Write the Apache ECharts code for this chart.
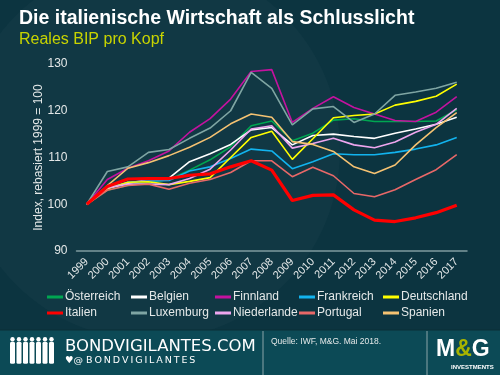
<!DOCTYPE html>
<html>
<head>
<meta charset="utf-8">
<script src="https://cdn.jsdelivr.net/npm/echarts@6/dist/echarts.min.js"></script>
<style>
  html, body { margin: 0; padding: 0; background: #0c3440; }
  #chart { width: 500px; height: 375px; }
</style>
</head>
<body>
<div id="chart"></div>
<script>
    var years = ['1999','2000','2001','2002','2003','2004','2005','2006','2007','2008',
                 '2009','2010','2011','2012','2013','2014','2015','2016','2017'];
    var yTicks = [90, 100, 110, 120, 130];

    var oesterreich = [100,103.0,104.0,104.6,105.3,107.3,109.5,112.3,116.8,117.8,113.6,115.2,118.0,118.3,117.7,117.7,117.7,117.8,120.2];
    var belgien     = [100,103.5,104.5,105.3,105.6,109.1,110.8,112.8,115.9,116.4,112.7,114.7,115.0,114.5,114.1,115.2,116.1,117.1,118.6];
    var finnland    = [100,105.3,107.7,109.3,111.4,115.4,118.3,122.5,128.4,128.8,117.5,120.5,123.0,120.7,119.3,117.9,117.7,119.7,123.0];
    var frankreich  = [100,103.4,104.7,105.0,105.1,107.1,108.0,109.8,111.8,111.4,107.6,109.1,110.8,110.6,110.6,111.1,111.8,112.7,114.3];
    var deutschland = [100,103.3,104.7,104.8,104.2,104.9,105.7,110.0,114.3,115.6,109.6,114.0,118.5,119.0,119.3,121.2,122.0,123.1,125.7];
    var italien     = [100,103.8,105.4,105.5,105.5,106.2,106.5,108.0,109.3,107.3,100.8,101.9,102.0,98.8,96.6,96.3,97.1,98.2,99.8];
    var luxemburg   = [100,107.0,108.0,111.1,111.7,114.1,116.3,120.0,128.2,124.8,117.0,120.4,120.9,117.5,119.3,123.3,124.0,124.8,126.1];
    var niederlande = [100,103.5,104.3,104.3,104.2,105.5,107.5,111.6,116.1,116.8,112.0,113.0,114.1,112.7,112.1,113.3,115.4,117.1,120.5];
    var portugal    = [100,103.0,104.0,104.3,103.2,104.5,105.3,106.8,109.3,109.3,105.9,107.9,106.1,102.3,101.6,103.1,105.3,107.4,110.6];
    var spanien     = [100,104.0,107.7,108.9,110.4,112.2,114.3,117.2,119.3,118.6,113.4,112.8,111.3,108.0,106.6,108.4,112.7,116.4,119.6];

    var legendRow1 = ['Österreich','Belgien','Finnland','Frankreich','Deutschland'];
    var legendRow2 = ['Italien','Luxemburg','Niederlande','Portugal','Spanien'];

    function line(name, data, color, width) {
        return {
            name: name,
            type: 'line',
            data: data,
            symbol: 'none',
            color: color,
            lineStyle: { color: color, width: width || 1.6 }
        };
    }

    var font = '"Liberation Sans", Arial, sans-serif';
    var txt = '#e4e8e8';

    // one legend per entry so the columns line up like a table
    var legends = [];
    [legendRow1, legendRow2].forEach(function (row, r) {
        row.forEach(function (name, c) {
            legends.push({
                data: [name], left: 47 + c * 84, top: 291 + r * 16, padding: 0,
                itemWidth: 16, itemHeight: 3, icon: 'rect',
                textStyle: { color: txt, fontSize: 12, fontFamily: font, padding: [0, 0, 0, -3] }
            });
        });
    });

    function spaced(s, sep) { return s.split('').join(sep); }

    var option = {
        backgroundColor: '#0c3440',
        animation: false,
        title: {
            text: 'Die italienische Wirtschaft als Schlusslicht',
            subtext: 'Reales BIP pro Kopf',
            left: 14, top: 4, itemGap: 3,
            textStyle: { color: '#ffffff', fontSize: 19.5, fontWeight: 'bold', fontFamily: font },
            subtextStyle: { color: '#c8d400', fontSize: 16, fontFamily: font }
        },
        grid: { left: 76.5, right: 33, top: 64, bottom: 124 },
        legend: legends,
        xAxis: {
            type: 'category',
            data: years,
            boundaryGap: true,
            axisLine: { lineStyle: { color: '#7f9a9e', width: 1.5 } },
            axisTick: { show: false },
            axisLabel: { rotate: 45, color: txt, fontSize: 11, fontFamily: font, margin: 9, interval: 0 }
        },
        yAxis: {
            type: 'value',
            min: 90, max: 130, interval: 10,
            name: 'Index, rebasiert 1999 = 100',
            nameLocation: 'middle',
            nameGap: 32,
            nameMoveOverlap: false,
            nameTextStyle: { color: txt, fontSize: 12, fontFamily: font },
            axisLine: { show: false },
            axisTick: { show: false },
            splitLine: { show: false },
            axisLabel: {
                color: txt, fontSize: 12, fontFamily: font, margin: 9,
                formatter: function (v) { return yTicks.indexOf(v) >= 0 ? String(v) : ''; }
            }
        },
        series: [
            line('Österreich', oesterreich, '#00a651'),
            line('Belgien', belgien, '#ffffff'),
            line('Finnland', finnland, '#c4129f'),
            line('Frankreich', frankreich, '#12b3ee'),
            line('Deutschland', deutschland, '#ffff00'),
            line('Luxemburg', luxemburg, '#7fa5a3'),
            line('Niederlande', niederlande, '#eea6ee'),
            line('Portugal', portugal, '#e86868'),
            line('Spanien', spanien, '#f5c272'),
            line('Italien', italien, '#ff0000', 3.2)
        ],
        graphic: [
            // faint background swirl
            { type: 'circle', shape: { cx: 150, cy: 150, r: 190 }, silent: true, z: -10,
              style: { fill: 'rgba(255,255,255,0.025)' } },
            // footer band
            { type: 'rect', shape: { x: 0, y: 330, width: 500, height: 45 }, silent: true,
              style: { fill: '#0c4a56' } },
            { type: 'line', shape: { x1: 0, y1: 330, x2: 500, y2: 330 }, silent: true,
              style: { stroke: '#0a2e36', lineWidth: 1 } },
            { type: 'line', shape: { x1: 263, y1: 331, x2: 263, y2: 375 }, silent: true,
              style: { stroke: '#8aa4a8', lineWidth: 1 } },
            { type: 'line', shape: { x1: 427, y1: 331, x2: 427, y2: 375 }, silent: true,
              style: { stroke: '#8aa4a8', lineWidth: 1 } },
            // people silhouettes
            { type: 'group', left: 10, top: 337, silent: true, children: [0,1,2,3,4,5,6].map(function (i) {
                return { type: 'group', x: i * 6.5, children: [
                    { type: 'circle', shape: { cx: 3, cy: 2.5, r: 2.2 }, style: { fill: '#ffffff' } },
                    { type: 'rect', shape: { x: 0.5, y: 5, width: 5, height: 22, r: 1.5 }, style: { fill: '#ffffff' } }
                ] };
            }) },
            { type: 'text', left: 65, top: 338, silent: true,
              style: { text: 'BONDVIGILANTES.COM', fill: '#ffffff', fontSize: 16.5,
                       fontFamily: '"DejaVu Sans", sans-serif' } },
            { type: 'text', left: 65, top: 356, silent: true,
              style: { text: '\u2665@ ' + spaced('BONDVIGILANTES', '\u2009'), fill: '#ffffff', fontSize: 9.5,
                       fontFamily: '"DejaVu Sans", sans-serif' } },
            { type: 'text', left: 271, top: 337, silent: true,
              style: { text: 'Quelle: IWF, M&G. Mai 2018.', fill: '#e4e8e8', fontSize: 8.5, fontFamily: font } },
            // M&G logo
            { type: 'text', left: 436, top: 338, silent: true,
              style: { text: '{m|M}{a|&}{m|G}', rich: {
                  m: { fill: '#ffffff', fontSize: 23, fontWeight: 'bold', fontFamily: font },
                  a: { fill: '#a8b400', fontSize: 23, fontWeight: 'bold', fontFamily: font }
              } } },
            { type: 'text', left: 451, top: 364, silent: true,
              style: { text: 'INVESTMENTS', fill: '#ffffff', fontSize: 6, fontWeight: 'bold', fontFamily: font } }
        ]
    };

    var myCharts = echarts.init(document.getElementById('chart'));
    myCharts.setOption(option);
</script>
</body>
</html>
